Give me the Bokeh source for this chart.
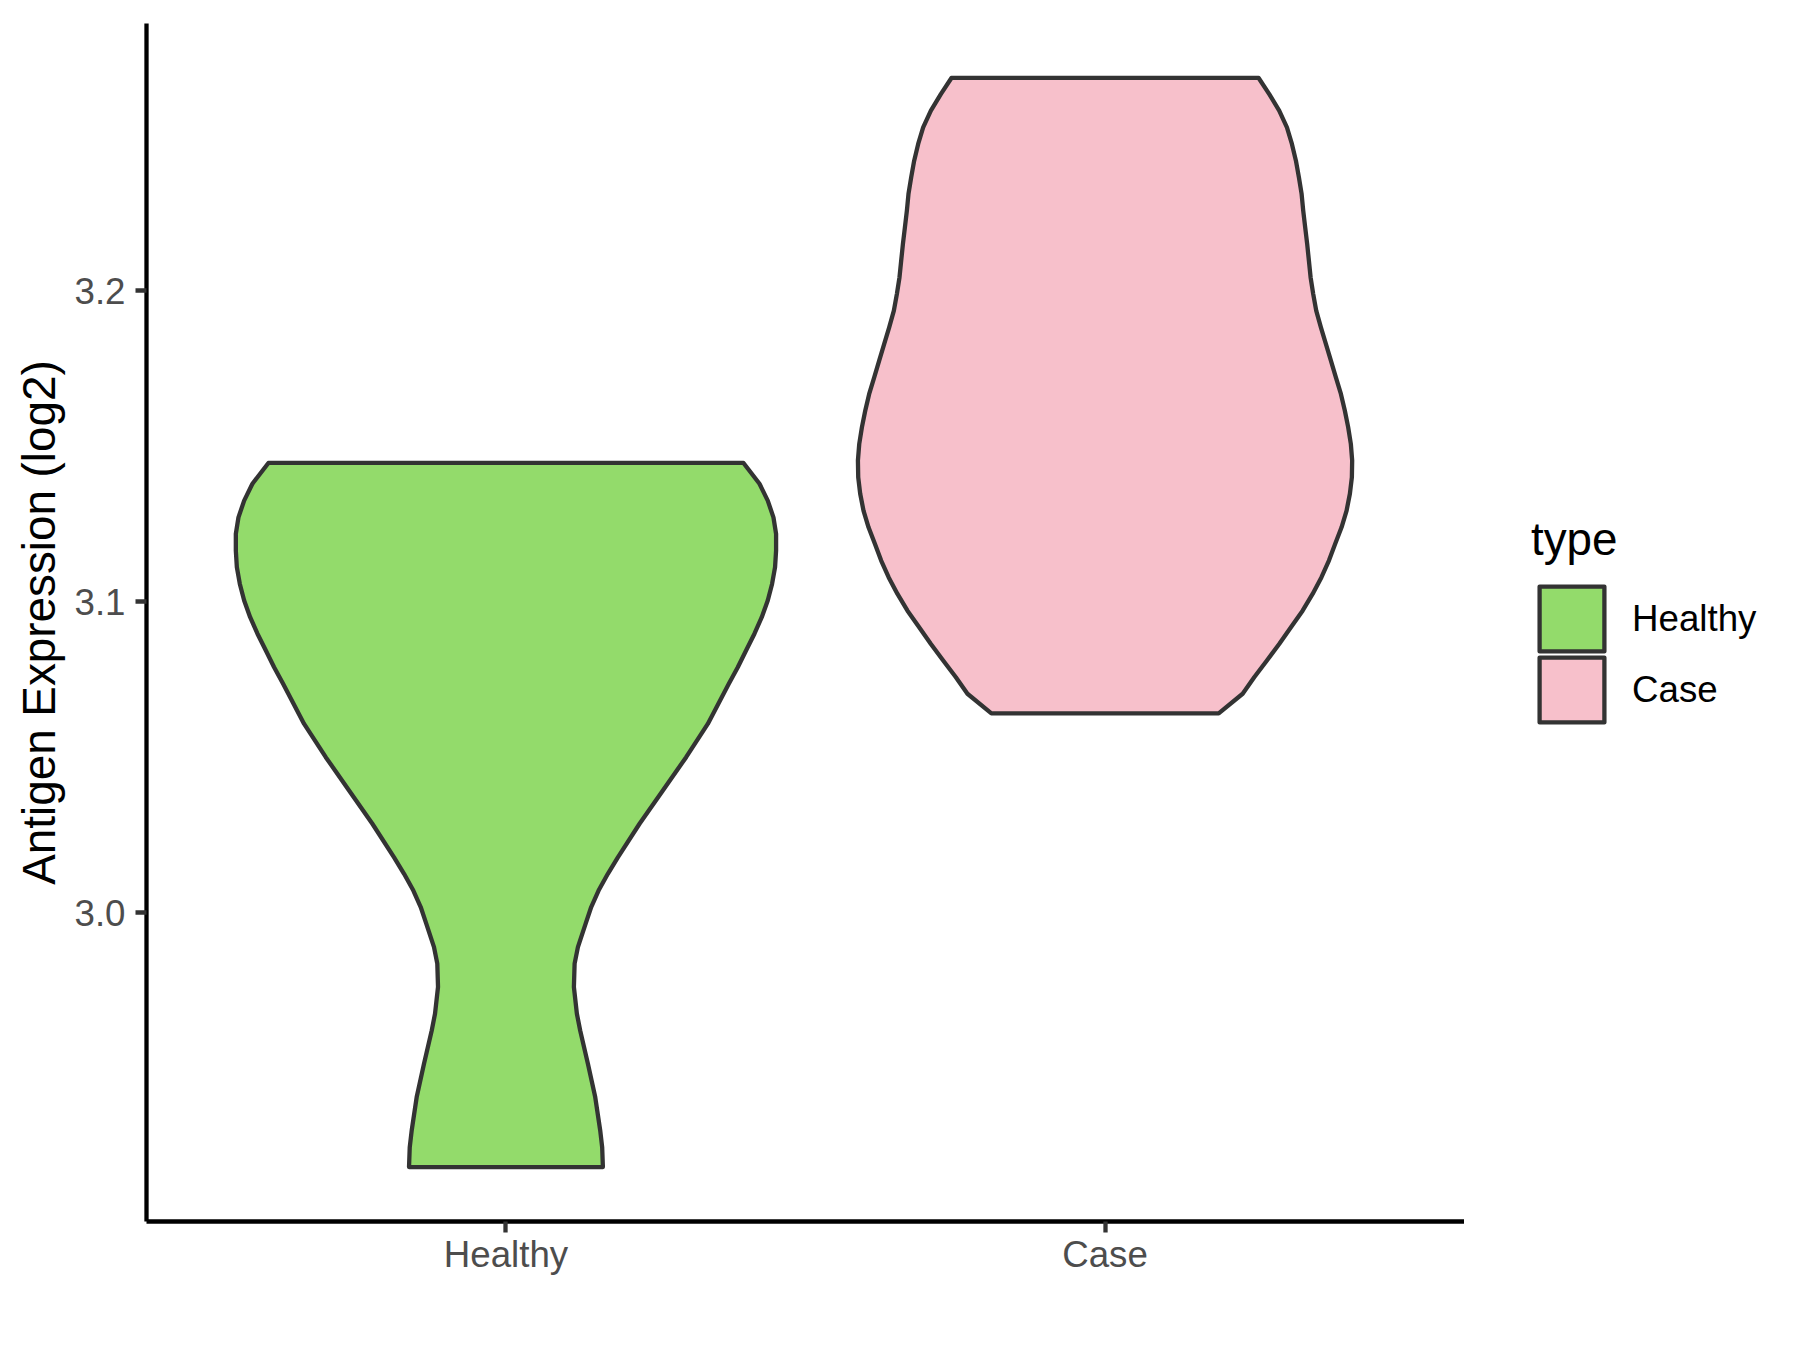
from bokeh.plotting import figure
from bokeh.layouts import row
from bokeh.models import (FactorRange, Range1d, FixedTicker, NumeralTickFormatter,
                          Legend, LegendItem)
from bokeh.embed import file_html
from bokeh.resources import INLINE

# ---- data -------------------------------------------------------------
categories = ["Healthy", "Case"]
fill_colors = ["#93DB6B", "#F7C0CB"]

# violin outline: expression value (log2) and half-width of the density
healthy_y = [2.9182, 2.9246, 2.9300, 2.9407, 2.9514, 2.9621, 2.9675, 2.9761,
             2.9836, 2.9889, 2.9964, 3.0018, 3.0071, 3.0125, 3.0178, 3.0286,
             3.0393, 3.0500, 3.0607, 3.0736, 3.0789, 3.0843, 3.0897, 3.0950,
             3.1004, 3.1057, 3.1111, 3.1164, 3.1218, 3.1271, 3.1325, 3.1379,
             3.1421, 3.1446]
healthy_w = [0.1618, 0.1606, 0.1573, 0.1490, 0.1368, 0.1239, 0.1184, 0.1134,
             0.1146, 0.1201, 0.1329, 0.1423, 0.1546, 0.1701, 0.1868, 0.2230,
             0.2619, 0.3008, 0.3369, 0.3720, 0.3870, 0.4008, 0.4148, 0.4270,
             0.4370, 0.4442, 0.4492, 0.4509, 0.4509, 0.4465, 0.4370, 0.4232,
             0.4065, 0.3965]

case_y = [3.0641, 3.0704, 3.0757, 3.0811, 3.0864, 3.0918, 3.0971, 3.1025,
          3.1078, 3.1132, 3.1186, 3.1239, 3.1293, 3.1347, 3.1400, 3.1454,
          3.1507, 3.1561, 3.1614, 3.1668, 3.1721, 3.1775, 3.1829, 3.1882,
          3.1936, 3.1989, 3.2043, 3.2096, 3.2150, 3.2203, 3.2257, 3.2311,
          3.2364, 3.2418, 3.2472, 3.2525, 3.2579, 3.2632, 3.2684]
case_w = [0.1897, 0.2297, 0.2490, 0.2702, 0.2907, 0.3103, 0.3298, 0.3465,
          0.3611, 0.3737, 0.3842, 0.3948, 0.4032, 0.4087, 0.4120, 0.4125,
          0.4103, 0.4058, 0.4003, 0.3937, 0.3853, 0.3770, 0.3686, 0.3603,
          0.3525, 0.3475, 0.3431, 0.3403, 0.3374, 0.3341, 0.3308, 0.3281,
          0.3236, 0.3186, 0.3119, 0.3036, 0.2907, 0.2741, 0.2564]

y_ticks = [3.0, 3.1, 3.2]
legend_title = "type"
y_label = "Antigen Expression (log2)"

# ---- main figure ------------------------------------------------------
all_y = healthy_y + case_y
lo, hi = min(all_y), max(all_y)
pad = 0.05 * (hi - lo)

FONT = "Liberation Sans"
OUTLINE = "#333333"
LW = 4.3

p = figure(width=1464, height=1342,
           x_range=FactorRange(factors=categories, range_padding=0.1,
                               range_padding_units="absolute"),
           y_range=Range1d(lo - pad, hi + pad),
           output_backend="svg", toolbar_location=None,
           min_border_left=146, min_border_right=0,
           min_border_top=23, min_border_bottom=121)

p.background_fill_color = "white"
p.border_fill_color = "white"
p.outline_line_color = None
p.xgrid.grid_line_color = None
p.ygrid.grid_line_color = None

for i, (ys, ws) in enumerate([(healthy_y, healthy_w), (case_y, case_w)]):
    c = i + 0.5  # synthetic coordinate of the category
    xs = [c - w for w in ws] + [c + w for w in reversed(ws)]
    yy = list(ys) + list(reversed(ys))
    p.patch(xs, yy, fill_color=fill_colors[i], line_color=OUTLINE,
            line_width=LW, line_join="round")

for ax in (p.xaxis[0], p.yaxis[0]):
    ax.axis_line_color = "black"
    ax.axis_line_width = LW
    ax.major_tick_line_color = OUTLINE
    ax.major_tick_line_width = LW
    ax.major_tick_in = 0
    ax.major_tick_out = 11
    ax.minor_tick_line_color = None
    ax.major_label_text_font = FONT
    ax.major_label_text_font_size = "36.7px"
    ax.major_label_text_color = "#4D4D4D"
    ax.axis_label_text_font = FONT
    ax.axis_label_text_font_size = "45.8px"
    ax.axis_label_text_font_style = "normal"
    ax.axis_label_text_color = "black"

p.xaxis.major_label_standoff = 1
p.yaxis.major_label_standoff = 10
p.yaxis.ticker = FixedTicker(ticks=y_ticks, minor_ticks=[])
p.yaxis.formatter = NumeralTickFormatter(format="0.0")
p.yaxis.axis_label = y_label
p.yaxis.axis_label_standoff = 6

# ---- legend panel (separate figure to the right) ----------------------
lf = figure(width=328, height=1342, output_backend="svg", toolbar_location=None,
            x_axis_location=None, y_axis_location=None, min_border=0,
            x_range=Range1d(0, 1), y_range=Range1d(0, 1))
lf.outline_line_color = None
lf.xgrid.grid_line_color = None
lf.ygrid.grid_line_color = None
lf.background_fill_color = "white"
lf.border_fill_color = "white"

nan = float("nan")
keys = [lf.patch([nan], [nan], fill_color=fill_colors[i], line_color=OUTLINE,
                 line_width=LW, line_join="round")
        for i in range(len(categories))]

common = dict(margin=0, padding=0, spacing=0,
              glyph_width=81, glyph_height=81, label_standoff=20,
              border_line_color=None, background_fill_alpha=0,
              title_text_font=FONT, title_text_font_size="45.8px",
              title_text_font_style="normal", title_text_color="black",
              title_standoff=12,
              label_text_font=FONT, label_text_font_size="36.7px",
              label_text_color="black")

legend_a = Legend(items=[LegendItem(label=categories[0], renderers=[keys[0]])],
                  title=legend_title, location=(67, 562), **common)
legend_b = Legend(items=[LegendItem(label=categories[1], renderers=[keys[1]])],
                  location=(67, 491), **common)
lf.add_layout(legend_a)
lf.add_layout(legend_b)

layout = row(p, lf, spacing=0)
open("out.html", "w").write(file_html(layout, INLINE))
